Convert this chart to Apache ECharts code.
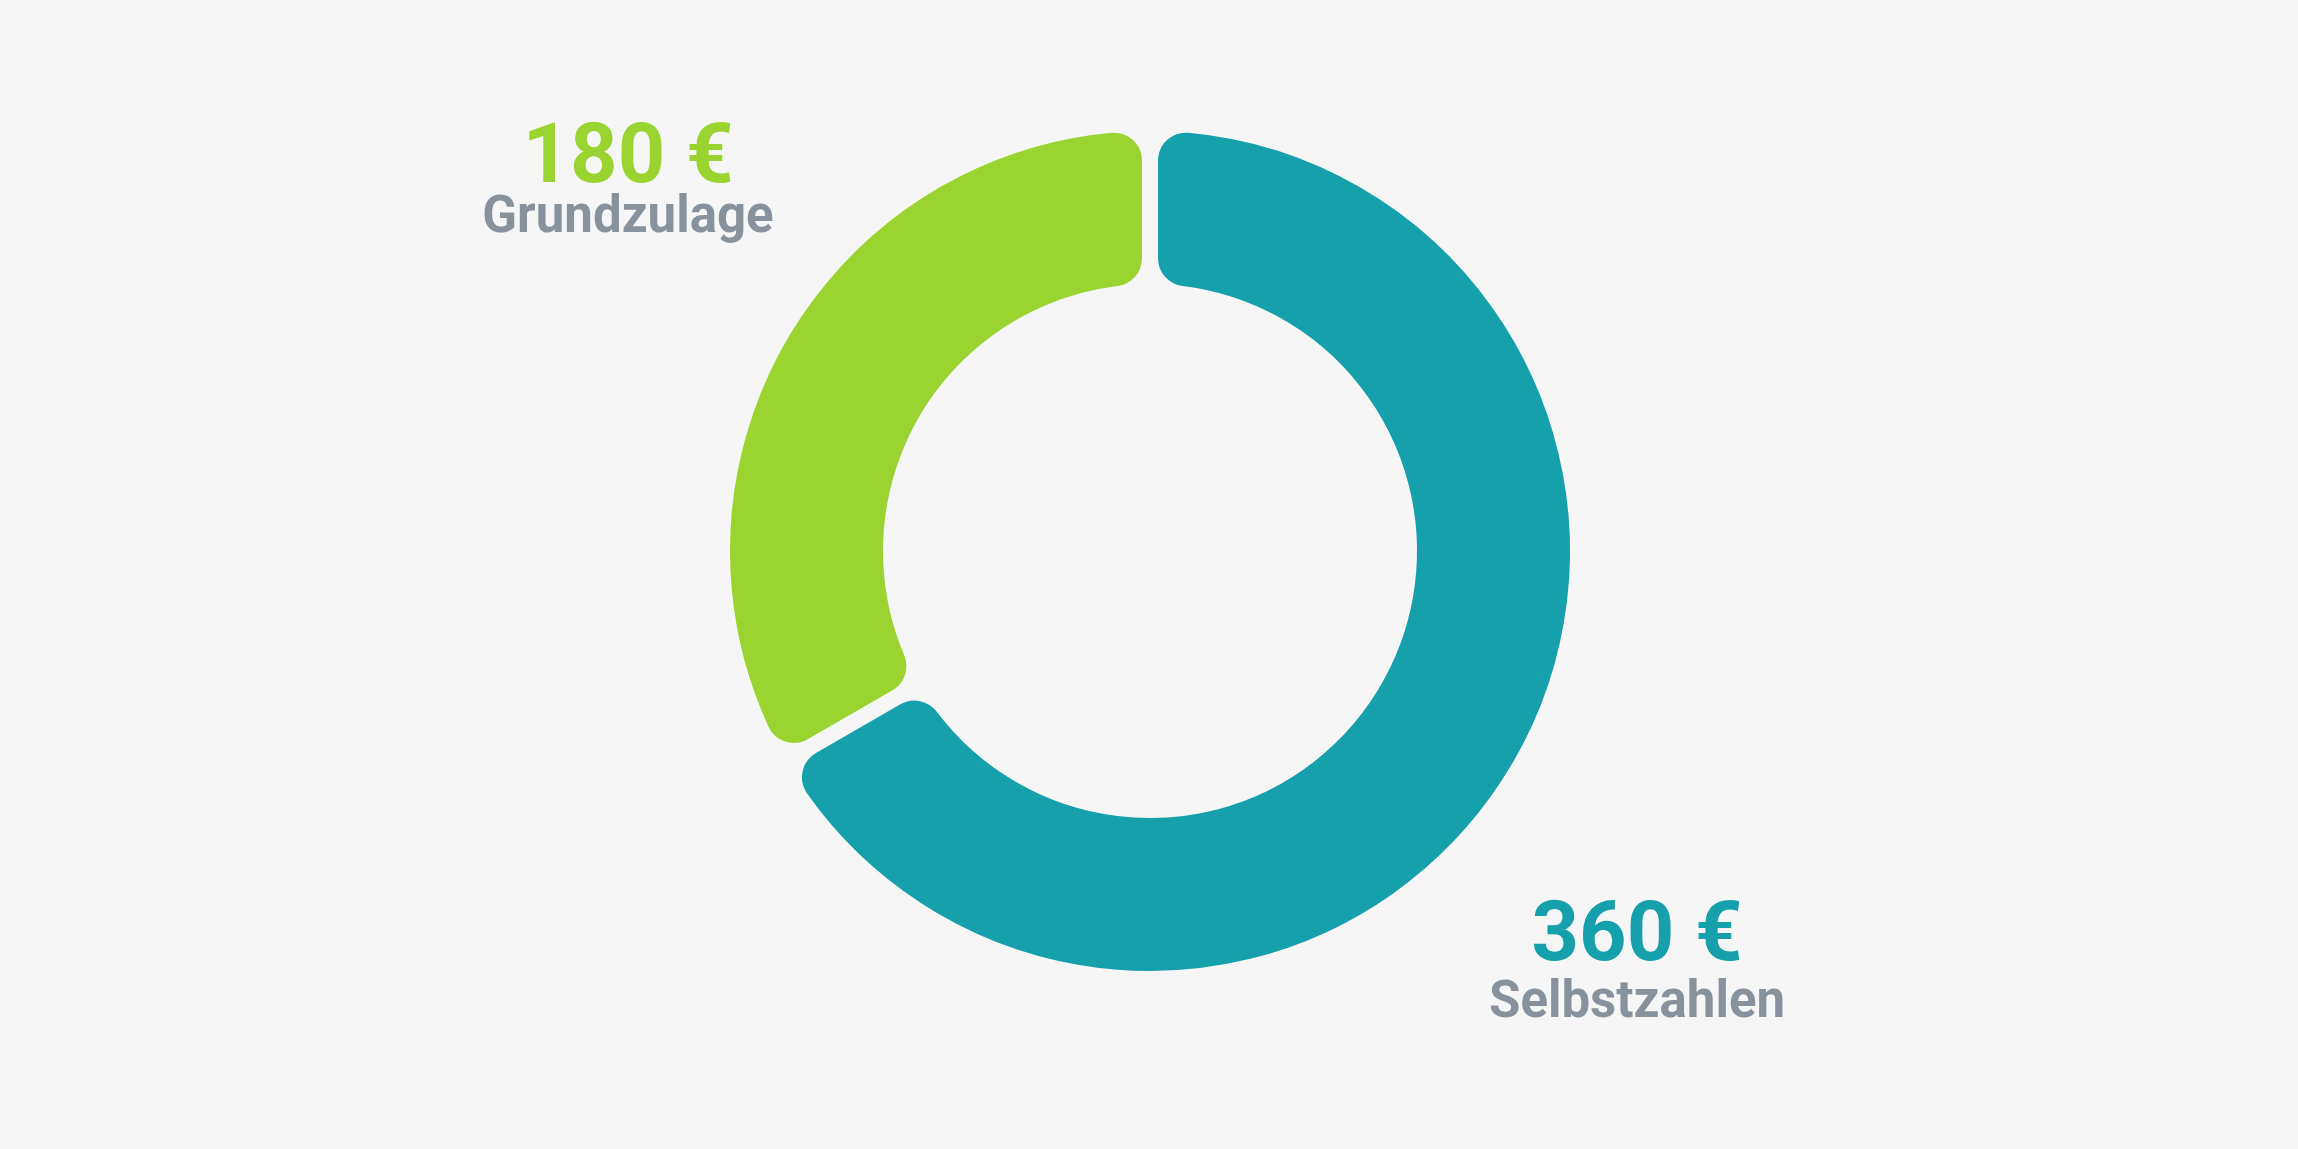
<!DOCTYPE html>
<html><head><meta charset="utf-8">
<script src="https://cdn.jsdelivr.net/npm/echarts@6/dist/echarts.min.js"></script>
<style>html,body{margin:0;padding:0;background:#f6f6f7;}#c{width:2298px;height:1149px;}</style>
</head><body><div id="c"></div>
<script>
const categories = ['Grundzulage', 'Selbstzahlen'];
const values = [180, 360];
const valueLabels = ['180 €', '360 €'];
const colors = ['#9ad431', '#15a0ac'];

const chart = echarts.init(document.getElementById('c'), null, {renderer: 'canvas'});
const labelPos = [[628, 183], [1637, 968]];
chart.setOption({
  backgroundColor: '#f6f6f7',
  animation: false,
  series: [{
    type: 'pie',
    center: [1150, 551],
    radius: [259, 428],
    startAngle: 90,
    clockwise: false,
    itemStyle: { borderRadius: 36, borderWidth: 16, borderColor: '#f6f6f7' },
    emphasis: { disabled: true },
    labelLine: { show: false },
    label: {
      show: true,
      position: 'outside',
      fontFamily: 'Roboto',
      formatter: p => '{v' + p.dataIndex + '|' + valueLabels[p.dataIndex] + '}\n{n' + p.dataIndex + '|' + p.name + '}',
      rich: {
        v0: { fontFamily: 'Roboto', fontWeight: 'bold', fontSize: 83, lineHeight: 72, color: colors[0], align: 'center' },
        v1: { fontFamily: 'Roboto', fontWeight: 'bold', fontSize: 83, lineHeight: 72, color: colors[1], align: 'center' },
        n0: { fontFamily: 'Roboto', fontWeight: 'bold', fontSize: 51, lineHeight: 43, color: '#88929c', align: 'center' },
        n1: { fontFamily: 'Roboto', fontWeight: 'bold', fontSize: 51, lineHeight: 58, color: '#88929c', align: 'center' }
      }
    },
    labelLayout: p => ({ x: labelPos[p.dataIndex][0], y: labelPos[p.dataIndex][1], align: 'center', verticalAlign: 'middle' }),
    data: categories.map((c, i) => ({ name: c, value: values[i], itemStyle: { color: colors[i] } }))
  }]
});
</script></body></html>
